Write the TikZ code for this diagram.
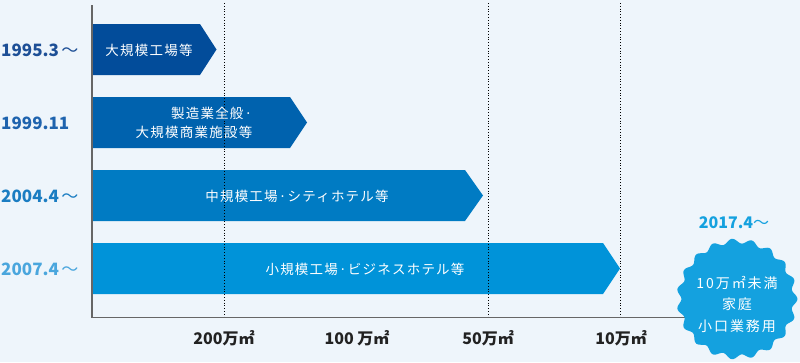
\documentclass[tikz,border=0pt]{standalone}
\usepackage{fontspec}
\setmainfont{Noto Sans CJK JP}
\newfontfamily\barfont{Noto Sans CJK JP}[LetterSpace=9]
\newfontfamily\badgefont{Noto Sans CJK JP}[LetterSpace=14]
\newfontfamily\numfont{Noto Sans CJK JP}[LetterSpace=0]
\definecolor{bgc}{HTML}{EEF5FB}
\definecolor{barA}{HTML}{024C9A}
\definecolor{barB}{HTML}{0062AE}
\definecolor{barC}{HTML}{007BC3}
\definecolor{barD}{HTML}{0093D9}
\definecolor{labA}{HTML}{1D4F96}
\definecolor{labB}{HTML}{1E63AE}
\definecolor{labC}{HTML}{1B7DC2}
\definecolor{labD}{HTML}{4AA6DD}
\definecolor{badgec}{HTML}{14A1DF}
\definecolor{axisc}{HTML}{666666}
\definecolor{tickc}{HTML}{222222}
\begin{document}
\begin{tikzpicture}[x=1pt,y=-1pt,
  bartext/.style={text=white,font=\barfont\fontsize{13.5}{20}\selectfont,inner sep=0pt},
  yearlab/.style={anchor=west,inner sep=0pt,font=\numfont\fontsize{17}{20}\selectfont\bfseries},
  ticklab/.style={text=tickc,inner sep=0pt,font=\numfont\fontsize{16}{18}\selectfont\bfseries},
  guide/.style={black,line width=0.8pt,dotted},
  axis/.style={axisc,line width=1.6pt}]
\useasboundingbox (0,0) rectangle (800,362);
\fill[bgc] (0,0) rectangle (800,362);
% bars
\fill[barA] (93,24) -- (200,24) -- (216.5,49.5) -- (200,75) -- (93,75) -- cycle;
\fill[barB] (93,97) -- (290,97) -- (307,122.5) -- (290,148) -- (93,148) -- cycle;
\fill[barC] (93,170) -- (465,170) -- (483,195.5) -- (465,221) -- (93,221) -- cycle;
\fill[barD] (93,243) -- (603,243) -- (620,268.5) -- (603,294) -- (93,294) -- cycle;
% guides
\draw[guide] (224,3) -- (224,317);
\draw[guide] (488,3) -- (488,317);
\draw[guide] (620,3) -- (620,317);
% axes
\draw[axis] (92,5) -- (92,317.5) -- (690,317.5);
% bar texts
\node[bartext] (t1) at (149,50) {大規模工場等};
\node[bartext,align=right] (t2) at (194,123) {製造業全般·\\[-1pt]大規模商業施設等};
\node[bartext] (t3) at (297,196) {中規模工場·シティホテル等};
\node[bartext] (t4) at (365,269) {小規模工場·ビジネスホテル等};
% year labels
\node[yearlab,text=labA] (y1) at (1,50) {1995.3\hspace{2.5pt}\mdseries〜};
\node[yearlab,text=labB] (y2) at (1,123) {1999.11};
\node[yearlab,text=labC] (y3) at (1,196) {2004.4\hspace{2.5pt}\mdseries〜};
\node[yearlab,text=labD] (y4) at (1,269) {2007.4\hspace{2.5pt}\mdseries〜};
% tick labels
\node[ticklab] (k1) at (224,338) {200万㎡};
\node[ticklab] (k2) at (357,338) {100 万㎡};
\node[ticklab] (k3) at (488,338) {50万㎡};
\node[ticklab] (k4) at (621,338) {10万㎡};
% badge
\fill[badgec,shift={(737,299)}] plot[domain=0:359,samples=240,smooth cycle,variable=\t] (\t:{58+2.4*cos(19*\t)});
\node[text=badgec,inner sep=0pt,font=\numfont\fontsize{16}{18}\selectfont\bfseries] (b0) at (734,223) {2017.4\mdseries〜};
\node[text=white,inner sep=0pt,align=center,font=\badgefont\fontsize{14}{21.5}\selectfont] (b1) at (737,304) {10万㎡未満\\家庭\\小口業務用};
\end{tikzpicture}
\end{document}
